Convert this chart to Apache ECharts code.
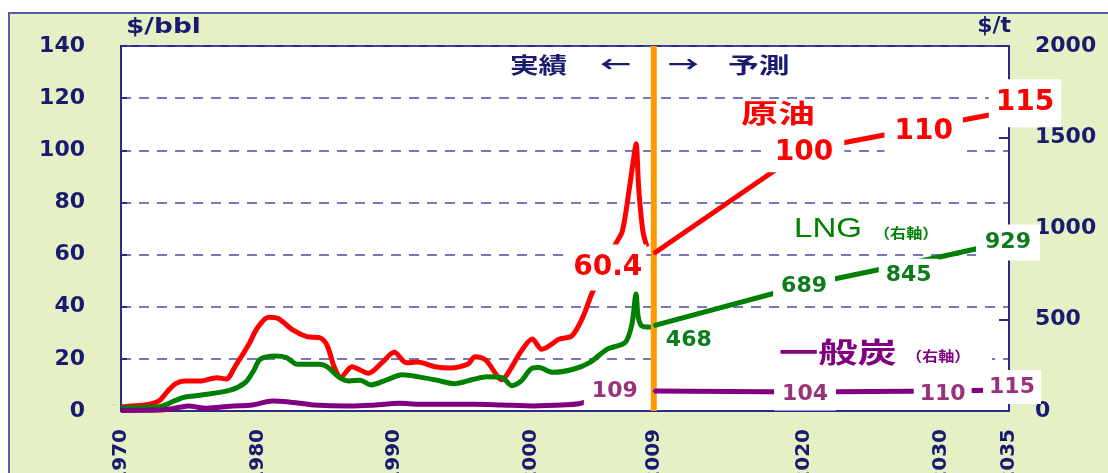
<!DOCTYPE html>
<html>
<head>
<meta charset="utf-8">
<script src="https://cdn.jsdelivr.net/npm/echarts@6/dist/echarts.min.js"></script>
<style>
  html, body { margin: 0; padding: 0; background: #fff; }
  #frame {
    position: absolute; left: 8px; top: 12px; width: 1120px; height: 480px;
    background: #e5f1c4; border-top: 2px solid #5a5aa8; border-left: 2px solid #5a5aa8;
  }
  #chart { position: absolute; left: 0; top: 0; width: 1108px; height: 473px; }
</style>
</head>
<body>
<div id="frame"></div>
<div id="chart"></div>
<script>
// 実績（履歴）
const oilHistYears = [1970, 1971, 1972, 1972.8, 1973.4, 1974.0, 1974.7, 1975.8, 1977.0, 1977.7, 1978.4, 1979.4, 1980.0, 1980.8, 1981.5, 1982.6, 1983.6, 1984.6, 1985.1, 1985.6, 1986.1, 1986.9, 1988.1, 1989.1, 1990.0, 1990.9, 1991.7, 1993.0, 1994.1, 1995.4, 1995.9, 1996.7, 1997.9, 1998.5, 1999.3, 2000.1, 2000.8, 2002.1, 2003.0, 2003.8, 2004.5, 2005.4, 2006.2, 2006.7, 2007.2, 2007.5, 2007.7, 2007.9, 2008.2, 2008.5]
const oilHistValues = [1.5, 2, 2.5, 4, 7.5, 10.5, 11.5, 11.5, 12.8, 12.3, 17.5, 26, 32, 36, 35.5, 31, 28.5, 28, 25, 17, 13, 17, 14.5, 18.5, 22.5, 18.5, 18.8, 17, 16.5, 18, 20.8, 19.5, 12, 16, 23, 27.6, 23.7, 27.6, 28.8, 35.9, 45.5, 55, 64, 69, 85, 96, 102.5, 85, 69, 63]

const lngHistYears = [1970, 1972.7, 1973.9, 1974.7, 1975.8, 1978.0, 1979.1, 1979.7, 1980.2, 1981.3, 1982.1, 1982.9, 1984.5, 1985.1, 1986.0, 1986.7, 1987.5, 1988.3, 1989.4, 1990.6, 1991.8, 1993.1, 1994.4, 1995.8, 1996.8, 1997.9, 1998.6, 1999.3, 2000.1, 2000.6, 2001.6, 2003.1, 2004.3, 2005.6, 2006.9, 2007.4, 2007.7, 2007.85, 2008.1, 2008.6, 2009.2]
const lngHistValues = [18, 22, 55, 77, 86, 114, 156, 220, 284, 302, 293, 256, 256, 242, 183, 165, 168, 143, 169, 198, 187, 169, 150, 174, 187, 183, 139, 165, 235, 238, 212, 229, 265, 339, 375, 476, 641, 520, 467, 460, 458]

const coalHistYears = [1970, 1972.9, 1974.4, 1974.9, 1976.3, 1978.0, 1979.6, 1981.1, 1982.3, 1984.1, 1986.7, 1988.3, 1990.4, 1991.8, 1995.8, 1997.9, 2000.2, 2002.6, 2003.5, 2004.0]
const coalHistValues = [3, 5, 22, 27, 15, 26, 33, 55, 49, 33, 27, 31, 42, 37, 37, 33, 28, 34, 40, 50]

// 予測
const fcstYears = [2009, 2020, 2030, 2035]
const oilFcstValues = [60.4, 100, 110, 115]
const lngFcstValues = [468, 689, 845, 929]
const coalFcstValues = [109, 104, 110, 115]

const xLabelYears = [1970, 1980, 1990, 2000, 2009, 2020, 2030, 2035]
const splitYear = 2009

// ラベルの位置（offset）と白枠（padding）
const oilLabelLayout = [
  { offset: [-46, 14], padding: [9, 4, 9, 4] },
  { offset: [0, 2], padding: [6, 11, 6, 11] },
  { offset: [-17, 8], padding: [9, 10, 9, 10] },
  { offset: [16, -8], padding: [10, 7, 10, 7] }
]
const lngLabelLayout = [
  { offset: [35, 15], padding: [3, 4, 3, 4] },
  { offset: [0, 1], padding: [5, 8, 5, 8] },
  { offset: [-32, 18], padding: [5, 7, 5, 7] },
  { offset: [-1, 1], padding: [7, 9, 7, 9] }
]
const coalLabelLayout = [
  { offset: [-39, 0], padding: [5, 8, 5, 8] },
  { offset: [1, 2], padding: [2, 8, 9, 8] },
  { offset: [2, 3], padding: [4, 6, 4, 6] },
  { offset: [3, -3], padding: [6, 6, 6, 6] }
]

const NAVY = '#1a1a70'
const NUM_FONT = 'DejaVu Sans'
const JP_FONT = 'Noto Sans CJK JP'

let pairs = (xs, ys) => xs.map((x, i) => [x, ys[i]])

let fcstData = (values, layout, color, size) => values.map((v, i) => ({
  value: [fcstYears[i], v],
  label: {
    show: true,
    position: 'inside',
    offset: layout[i].offset,
    formatter: String(v),
    color: color,
    fontFamily: NUM_FONT,
    fontWeight: 'bold',
    fontSize: size,
    lineHeight: size,
    backgroundColor: '#fff',
    padding: layout[i].padding
  }
}))

let histSeries = (name, years, values, color, axis) => ({
  name: name,
  type: 'line',
  yAxisIndex: axis,
  data: pairs(years, values),
  smooth: 0.3,
  showSymbol: false,
  symbol: 'none',
  silent: true,
  z: 2,
  lineStyle: { color: color, width: 5 }
})

let fcstSeries = (name, values, layout, lineColor, textColor, size, axis) => ({
  name: name,
  type: 'line',
  yAxisIndex: axis,
  data: fcstData(values, layout, textColor, size),
  symbol: 'circle',
  symbolSize: 2,
  showSymbol: true,
  itemStyle: { color: lineColor },
  silent: true,
  z: 6,
  lineStyle: { color: lineColor, width: 5 }
})

let jpText = (text, x, y, sx, color, font) => ({
  type: 'text', x: x, y: y, scaleX: sx, z: 20, silent: true,
  style: { text: text, fill: color, font: font, textVerticalAlign: 'middle' }
})

let chart = echarts.init(document.getElementById('chart'))
chart.setOption({
  backgroundColor: 'transparent',
  animation: false,
  grid: {
    left: 121, right: 99, top: 46, bottom: 62,
    outerBoundsMode: 'none',
    show: true, backgroundColor: '#fff', borderColor: '#2a2a8c', borderWidth: 2
  },
  xAxis: {
    type: 'value',
    min: 1970,
    max: 2035,
    axisLine: { lineStyle: { color: '#2a2a8c', width: 2 } },
    axisTick: { show: false },
    splitLine: { show: false },
    axisLabel: {
      customValues: xLabelYears,
      rotate: 90,
      margin: 18,
      color: NAVY,
      fontFamily: NUM_FONT,
      fontWeight: 'bold',
      fontSize: 20,
      padding: [0, 0, 10, 0],
      formatter: v => String(v)
    }
  },
  yAxis: [
    {
      type: 'value',
      min: 0,
      max: 140,
      interval: 20,
      position: 'left',
      axisLine: { show: true, lineStyle: { color: '#2a2a8c', width: 2 } },
      axisTick: { show: true, inside: true, length: 6, lineStyle: { color: '#2a2a8c', width: 2 } },
      splitLine: { show: true, lineStyle: { color: '#4b4ba6', width: 1.5, type: [10, 8] } },
      axisLabel: { margin: 36, color: NAVY, fontFamily: NUM_FONT, fontWeight: 'bold', fontSize: 22, formatter: v => String(v) }
    },
    {
      type: 'value',
      min: 0,
      max: 2000,
      interval: 500,
      position: 'right',
      name: '$/t',
      nameLocation: 'end',
      nameGap: 9,
      nameTextStyle: { color: NAVY, fontFamily: NUM_FONT, fontWeight: 'bold', fontSize: 22, align: 'right', padding: [0, -2, 0, 0] },
      axisLine: { show: true, lineStyle: { color: '#2a2a8c', width: 2 } },
      axisTick: { show: true, inside: true, length: 10, lineStyle: { color: '#2a2a8c', width: 2 } },
      splitLine: { show: false },
      axisLabel: { margin: 26, color: NAVY, fontFamily: NUM_FONT, fontWeight: 'bold', fontSize: 22, formatter: v => String(v) }
    }
  ],
  graphic: [
    { type: 'rect', shape: { x: 660, y: 337, width: 332, height: 37 }, style: { fill: '#fff' }, z: 3, silent: true },
    jpText('$/bbl', 126, 27, 1.2, NAVY, 'bold 22px "' + NUM_FONT + '"'),
    jpText('実績', 510, 65, 1.3, NAVY, 'bold 22px "' + JP_FONT + '"'),
    jpText('←', 600, 64, 1.4, NAVY, 'bold 22px "' + JP_FONT + '"'),
    jpText('→', 668, 64, 1.4, NAVY, 'bold 22px "' + JP_FONT + '"'),
    jpText('予測', 728, 65, 1.4, NAVY, 'bold 22px "' + JP_FONT + '"'),
    jpText('原油', 741, 113, 1.42, '#ff0000', 'bold 26px "' + JP_FONT + '"'),
    jpText('LNG', 794, 229, 1.18, '#008000', '28px "Liberation Sans"'),
    jpText('（右軸）', 874, 233, 1.15, '#008000', 'bold 14px "' + JP_FONT + '"'),
    jpText('一般炭', 779, 352, 1.4, '#800080', 'bold 28px "' + JP_FONT + '"'),
    jpText('（右軸）', 906, 356, 1.15, '#800080', 'bold 14px "' + JP_FONT + '"')
  ],
  series: [
    histSeries('原油', oilHistYears, oilHistValues, '#ff0000', 0),
    histSeries('LNG', lngHistYears, lngHistValues, '#008000', 1),
    histSeries('一般炭', coalHistYears, coalHistValues, '#800080', 1),
    {
      name: 'split',
      type: 'line',
      yAxisIndex: 0,
      data: [[splitYear, 0], [splitYear, 140]],
      symbol: 'none',
      silent: true,
      z: 4,
      lineStyle: { color: '#ff9900', width: 6 }
    },
    fcstSeries('原油予測', oilFcstValues, oilLabelLayout, '#ff0000', '#ff0000', 28, 0),
    fcstSeries('LNG予測', lngFcstValues, lngLabelLayout, '#008000', '#0a7d1a', 22, 1),
    fcstSeries('一般炭予測', coalFcstValues, coalLabelLayout, '#800080', '#993377', 22, 1)
  ]
})
</script>
</body>
</html>
